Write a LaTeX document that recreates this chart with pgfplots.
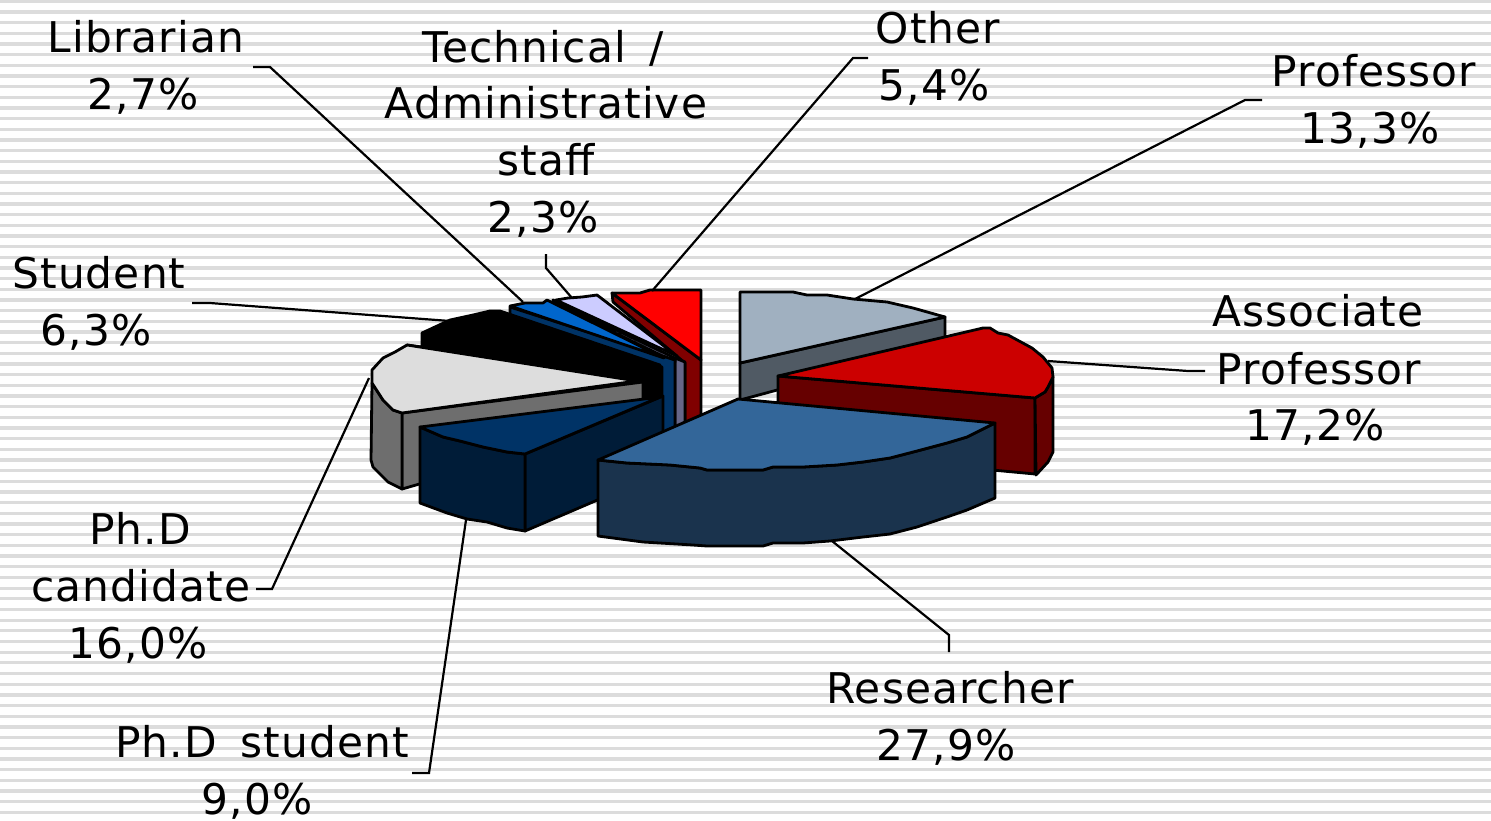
\documentclass[border=0pt]{standalone}
\usepackage{fontspec}
\setmainfont[LetterSpace=2.6,WordSpace=1.6]{DejaVu Sans}
\usepackage{pgfplots}
\pgfplotsset{compat=1.18}
\definecolor{stripe}{HTML}{DCDCDC}
\definecolor{profT}{HTML}{A0B0C0}
\definecolor{profS}{HTML}{505A64}
\definecolor{assocT}{HTML}{CC0000}
\definecolor{assocS}{HTML}{660000}
\definecolor{resT}{HTML}{336699}
\definecolor{resS}{HTML}{1A334D}
\definecolor{phdT}{HTML}{003366}
\definecolor{phdS}{HTML}{001C38}
\definecolor{candT}{HTML}{DDDDDD}
\definecolor{candS}{HTML}{6E6E6E}
\definecolor{libT}{HTML}{0066CC}
\definecolor{techT}{HTML}{CCCCFF}
\definecolor{techS}{HTML}{666688}
\definecolor{othS}{HTML}{800000}
\tikzset{lab/.style={anchor=base,yshift=1pt,font=\fontsize{42.3}{50}\selectfont,inner sep=0pt,text=black}}
\pgfplotsset{
  slice/.style={fill=#1,draw=black,line width=2.8pt,line join=round,mark=none},
  leader/.style={draw=black,line width=2.2pt,mark=none,line join=miter},
}
\begin{document}
\begin{tikzpicture}
\path[use as bounding box] (0,0) rectangle (1491pt,820pt);
\begin{axis}[
  at={(0,0)},anchor=south west,
  scale only axis,width=1491pt,height=820pt,
  xmin=0,xmax=1491,ymin=0,ymax=820,y dir=reverse,
  hide axis,clip=false,
]
% background stripes
\addplot[xcomb,draw=stripe,line width=3.3pt,mark=none] coordinates {
(1491,1.3)(1491,12.0)(1491,22.6)(1491,33.3)(1491,44.0)(1491,54.6)(1491,65.3)(1491,76.0)(1491,86.7)(1491,97.3)
(1491,108.0)(1491,118.7)(1491,129.3)(1491,140.0)(1491,150.7)(1491,161.4)(1491,172.0)(1491,182.7)(1491,193.4)(1491,204.0)
(1491,214.7)(1491,225.4)(1491,236.0)(1491,246.7)(1491,257.4)(1491,268.1)(1491,278.7)(1491,289.4)(1491,300.1)(1491,310.7)
(1491,321.4)(1491,332.1)(1491,342.7)(1491,353.4)(1491,364.1)(1491,374.8)(1491,385.4)(1491,396.1)(1491,406.8)(1491,417.4)
(1491,428.1)(1491,438.8)(1491,449.4)(1491,460.1)(1491,470.8)(1491,481.5)(1491,492.1)(1491,502.8)(1491,513.5)(1491,524.1)
(1491,534.8)(1491,545.5)(1491,556.1)(1491,566.8)(1491,577.5)(1491,588.2)(1491,598.8)(1491,609.5)(1491,620.2)(1491,630.8)
(1491,641.5)(1491,652.2)(1491,662.8)(1491,673.5)(1491,684.2)(1491,694.9)(1491,705.5)(1491,716.2)(1491,726.9)(1491,737.5)
(1491,748.2)(1491,758.9)(1491,769.5)(1491,780.2)(1491,790.9)(1491,801.6)(1491,812.2)};
% Other
\addplot[slice=othS] coordinates {(612,293)(701,360)(701,425)(685,425)(685,363)(613,302)} --cycle;
\addplot[slice=red] coordinates {(612,293)(640,293)(650,290)(701,290)(701,360)} --cycle;
% Technical
\addplot[slice=techS] coordinates {(675,358)(685,362)(685,422)(675,428)} --cycle;
\addplot[slice=techS] coordinates {(553,300)(675,358)(675,362)(553,303)} --cycle;
\addplot[slice=techT] coordinates {(556,300)(568,298)(582,297)(597,295)(677,356)} --cycle;
% Librarian
\addplot[slice=phdT] coordinates {(510,307)(675,360)(675,430)(662,436)(662,367)(510,315)} --cycle;
\addplot[slice=libT] coordinates {(510,306)(525,303)(543,303)(547,300)(664,358)} --cycle;
% Student
\addplot[slice=black] coordinates {(422,333)(450,320)(473,315)(490,311)(500,311)(660,365)(660,400)(640,400)(640,381)(407,345)(422,347)} --cycle;
% Ph.D candidate
\addplot[slice=candS] coordinates {(402,413)(643,382)(643,420)(402,489)} --cycle;
\addplot[slice=candS] coordinates {(372,383)(383,400)(393,410)(402,413)(402,489)(388,482)(373,467)(371,460)} --cycle;
\addplot[slice=candT] coordinates {(407,345)(637,381)(402,413)(393,410)(383,400)(372,383)(372,370)(383,358)(395,352)} --cycle;
% Ph.D student
\addplot[slice=phdS] coordinates {(525,454)(663,396)(663,472)(525,531)} --cycle;
\addplot[slice=phdS] coordinates {(420,427)(443,437)(460,441)(483,447)(507,452)(525,454)(525,531)(507,528)(487,522)(467,519)(447,513)(420,503)} --cycle;
\addplot[slice=phdT] coordinates {(420,427)(660,397)(525,454)(507,452)(483,447)(460,441)(443,437)} --cycle;
% Professor
\addplot[slice=profS] coordinates {(740,363)(945,317)(945,345)(740,400)} --cycle;
\addplot[slice=profT] coordinates {(740,292)(793,292)(807,295)(827,295)(853,299)(887,302)(913,308)(945,317)(740,363)} --cycle;
% Associate professor
\addplot[slice=assocS] coordinates {(778,376)(1035,398)(1035,474)(778,450)} --cycle;
\addplot[slice=assocS] coordinates {(1035,398)(1045,392)(1048,387)(1053,377)(1053,452)(1048,462)(1036,475)} --cycle;
\addplot[slice=assocT] coordinates {(778,376)(983,328)(990,328)(998,333)(1008,335)(1032,348)(1043,357)(1052,368)(1053,377)(1048,387)(1045,392)(1035,398)} --cycle;
% Researcher
\addplot[slice=resS] coordinates {(598,460)(627,463)(670,465)(700,468)(707,470)(763,470)(773,467)(803,467)(837,465)(863,462)(890,458)(917,451)(947,443)(967,437)(995,423)(995,498)(967,510)(947,517)(917,527)(890,534)(863,537)(830,541)(803,543)(773,543)(763,546)(707,546)(693,545)(643,542)(598,536)} --cycle;
\addplot[slice=resT] coordinates {(738,399)(995,423)(967,437)(947,443)(917,451)(890,458)(863,462)(837,465)(803,467)(773,467)(763,470)(707,470)(700,468)(670,465)(627,463)(598,460)} --cycle;
% leaders
\addplot[leader] coordinates {(253,67)(270,67)(523,302)};
\addplot[leader] coordinates {(546,254)(546,268)(572,298)};
\addplot[leader] coordinates {(868,58)(853,58)(652,291)};
\addplot[leader] coordinates {(1262,100)(1245,100)(855,299)};
\addplot[leader] coordinates {(1205,371)(1188,371)(1048,361)};
\addplot[leader] coordinates {(949,652)(949,635)(832,541)};
\addplot[leader] coordinates {(412,773)(429,773)(466,520)};
\addplot[leader] coordinates {(256,589)(272,589)(369,378)};
\addplot[leader] coordinates {(192,303)(210,303)(450,321)};
% labels
\node[lab] at (axis cs:146,53) {Librarian};
\node[lab] at (axis cs:143,110) {2,7\%};
\node[lab] at (axis cs:543,63) {Technical /};
\node[lab] at (axis cs:546,119) {Administrative};
\node[lab] at (axis cs:546,176) {staff};
\node[lab] at (axis cs:543,233) {2,3\%};
\node[lab] at (axis cs:938,44) {Other};
\node[lab] at (axis cs:934,101) {5,4\%};
\node[lab] at (axis cs:1374,87) {Professor};
\node[lab] at (axis cs:1370,144) {13,3\%};
\node[lab] at (axis cs:1318,327) {Associate};
\node[lab] at (axis cs:1319,385) {Professor};
\node[lab] at (axis cs:1315,441) {17,2\%};
\node[lab] at (axis cs:950,704) {Researcher};
\node[lab] at (axis cs:946,761) {27,9\%};
\node[lab] at (axis cs:140,545) {Ph.D};
\node[lab] at (axis cs:141,602) {candidate};
\node[lab] at (axis cs:138,659) {16,0\%};
\node[lab] at (axis cs:262,758) {Ph.D student};
\node[lab] at (axis cs:257,815) {9,0\%};
\node[lab] at (axis cs:99,289) {Student};
\node[lab] at (axis cs:96,346) {6,3\%};
\end{axis}
\end{tikzpicture}
\end{document}
